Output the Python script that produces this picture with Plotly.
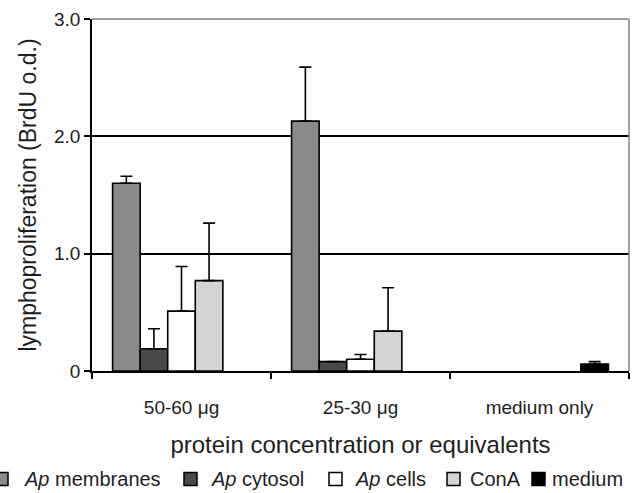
import plotly.graph_objects as go

categories = ["50-60 μg", "25-30 μg", "medium only"]

series_names = ["<i>Ap</i> membranes", "<i>Ap</i> cytosol", "<i>Ap</i> cells", "ConA", "medium"]
membranes = [1.60, 2.13, None]
membranes_err = [0.06, 0.46, None]
cytosol = [0.19, 0.08, None]
cytosol_err = [0.17, 0.0, None]
cells = [0.51, 0.10, None]
cells_err = [0.38, 0.04, None]
cona = [0.77, 0.34, None]
cona_err = [0.49, 0.37, None]
medium = [None, None, 0.06]
medium_err = [None, None, 0.02]

colors = ["#8a8a8a", "#4a4a4a", "#ffffff", "#d4d4d4", "#000000"]

values = [membranes, cytosol, cells, cona, medium]
errors = [membranes_err, cytosol_err, cells_err, cona_err, medium_err]

y_ticks = [0, 1, 2, 3]
y_ticktext = ["0", "1.0", "2.0", "3.0"]

FONT = "Arial, Liberation Sans, sans-serif"
TXT = "#1e1e1e"

fig = go.Figure()
for name, vals, errs, col in zip(series_names, values, errors, colors):
    fig.add_trace(go.Bar(
        name=name, x=categories, y=vals, showlegend=False,
        marker=dict(color=col, line=dict(color="black", width=1.6)),
        error_y=dict(type="data", array=errs, arrayminus=[0] * len(errs), symmetric=False,
                     color="black", thickness=1.6, width=6),
    ))

# plot area in pixels (for the hand-drawn legend below the chart)
L, R, T, B = 92, 15, 19, 122
W, H = 644, 493
pw, ph = W - L - R, H - T - B

def px_x(x):
    return (x - L) / pw

def px_y(y):
    return (H - B - y) / ph

# legend (keys + labels), laid out as in the reference
legend_keys = [(-5, 22), (184, 209), (329, 353), (447, 468), (532, 550)]
legend_cy = 479
for (sq_x, tx_x), name, col in zip(legend_keys, series_names, colors):
    fig.add_shape(type="rect", xref="paper", yref="paper",
                  x0=px_x(sq_x), x1=px_x(sq_x + 13),
                  y0=px_y(legend_cy + 6.5), y1=px_y(legend_cy - 6.5),
                  fillcolor=col, line=dict(color="black", width=1.5))
    fig.add_annotation(xref="paper", yref="paper", x=px_x(tx_x), y=px_y(legend_cy),
                       text=name, showarrow=False, xanchor="left", yanchor="middle",
                       font=dict(size=20, family=FONT, color=TXT))

fig.update_layout(
    width=W, height=H,
    margin=dict(l=L, r=R, t=T, b=B),
    paper_bgcolor="white", plot_bgcolor="white",
    barmode="group", bargap=0.23, bargroupgap=0,
    font=dict(family=FONT, color=TXT, size=17),
    showlegend=False,
    xaxis=dict(
        showline=True, linecolor="black", linewidth=1.5,
        ticks="outside", tickson="boundaries", ticklen=6, tickcolor="black", tickwidth=1.5,
        tickfont=dict(size=19), showgrid=False, automargin=False,
        ticklabelstandoff=18,
        title=dict(text="protein concentration or equivalents", font=dict(size=24), standoff=20),
    ),
    yaxis=dict(
        range=[0, 3], tickvals=y_ticks, ticktext=y_ticktext,
        showline=True, linecolor="black", linewidth=1.5,
        ticks="outside", ticklen=6, tickcolor="black", tickwidth=1.5,
        tickfont=dict(size=19), automargin=False,
        showgrid=True, gridcolor="black", gridwidth=1.5, zeroline=False,
        title=dict(text="lymphoproliferation (BrdU o.d.)", font=dict(size=23), standoff=11),
    ),
)

# frame: gray top and right borders
fig.add_shape(type="line", xref="paper", yref="paper", x0=0, x1=1, y0=1, y1=1,
              line=dict(color="#808080", width=1.5))
fig.add_shape(type="line", xref="paper", yref="paper", x0=1, x1=1, y0=0, y1=1,
              line=dict(color="#808080", width=1.5))

fig.write_html("out.html", config={"displayModeBar": False},
               post_script="document.body.style.margin='0';")
